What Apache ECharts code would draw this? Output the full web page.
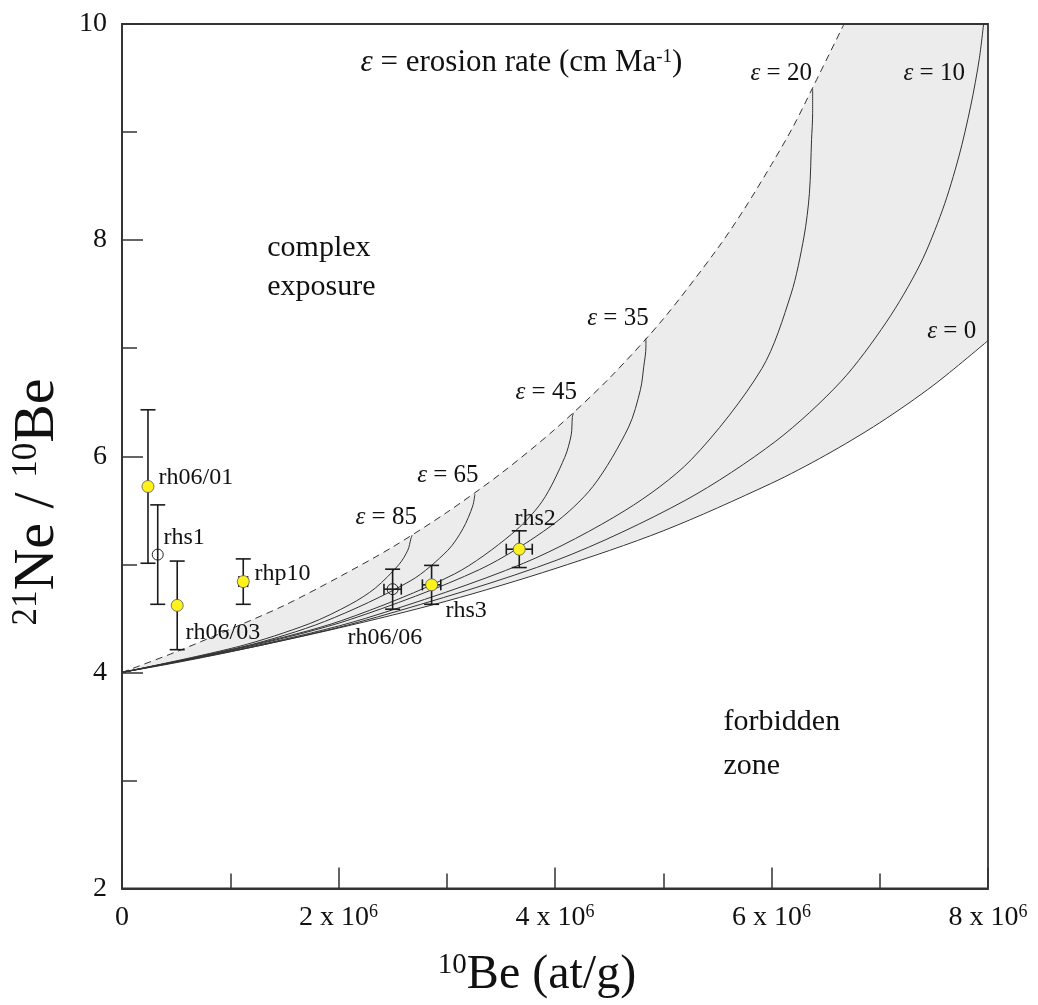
<!DOCTYPE html>
<html>
<head>
<meta charset="utf-8">
<script src="https://cdn.jsdelivr.net/npm/echarts@6/dist/echarts.min.js"></script>
<style>
  html, body { margin: 0; padding: 0; background: #fff; }
  #chart { width: 1038px; height: 1005px; }
</style>
</head>
<body>
<div id="chart"></div>
<script>
// x = 10Be (in 10^6 at/g), y = 21Ne/10Be
var steadyState = [[0, 4], [0.5, 4.19], [1, 4.4], [1.5, 4.62], [2, 4.88], [2.5, 5.16], [3, 5.48], [3.5, 5.84],
  [4, 6.25], [4.5, 6.72], [5, 7.27], [5.5, 7.92], [5.75, 8.29], [6, 8.7], [6.2, 9.05], [6.38, 9.41], [6.67, 10]];
var eps0 = [[0, 4], [0.5, 4.09], [1, 4.19], [2, 4.41], [3, 4.66], [4, 4.96], [5, 5.31], [6, 5.75], [6.5, 6.01],
  [7, 6.31], [7.5, 6.66], [8, 7.07]];
var eps10 = [[0, 4], [1.28, 4.25], [2.35, 4.51], [4.02, 5.04], [5.2, 5.59], [6.04, 6.14], [6.64, 6.69], [7.06, 7.24],
  [7.37, 7.77], [7.58, 8.28], [7.73, 8.77], [7.84, 9.24], [7.92, 9.68], [7.97, 10.1]];
var eps20 = [[0, 4], [1.25, 4.25], [2.25, 4.5], [3.71, 5.01], [4.65, 5.5], [5.26, 5.97], [5.91, 6.81], [6.18, 7.5],
  [6.3, 8.03], [6.35, 8.43], [6.37, 8.93], [6.38, 9.17], [6.38, 9.4]];
var eps35 = [[0, 4], [1.21, 4.25], [2.11, 4.49], [3.3, 4.95], [3.97, 5.36], [4.35, 5.72], [4.68, 6.27], [4.79, 6.62],
  [4.82, 6.83], [4.84, 7.01], [4.84, 7.09]];
var eps45 = [[0, 4], [1.18, 4.25], [2.03, 4.48], [3.07, 4.91], [3.6, 5.28], [3.88, 5.58], [4.09, 5.99], [4.15, 6.2],
  [4.16, 6.36], [4.17, 6.4]];
var eps65 = [[0, 4], [1.13, 4.24], [1.87, 4.47], [2.67, 4.85], [3.01, 5.13], [3.15, 5.33], [3.24, 5.54], [3.26, 5.65]];
var eps85 = [[0, 4], [1.08, 4.24], [1.73, 4.45], [2.11, 4.63], [2.34, 4.78], [2.56, 5.0], [2.64, 5.13], [2.67, 5.24],
  [2.68, 5.27]];

// samples
var sampleNames = ['rh06/01', 'rhs1', 'rh06/03', 'rhp10', 'rh06/06', 'rhs3', 'rhs2'];
var sampleBe = [0.24, 0.33, 0.51, 1.12, 2.5, 2.86, 3.67];
var sampleRatio = [5.72, 5.09, 4.62, 4.84, 4.77, 4.81, 5.14];
var ratioErr = [0.71, 0.46, 0.41, 0.21, 0.185, 0.18, 0.17];
var beErr = [0, 0, 0, 0.04, 0.08, 0.085, 0.12];
var openSamples = ['rhs1', 'rh06/06'];

var xTicks = [0, 2, 4, 6, 8];
var yTicks = [2, 4, 6, 8, 10];

// text placed in data coords (left edge, middle)
var sampleNotes = [
  ['rh06/01', 0.333, 5.806], ['rhs1', 0.379, 5.25], ['rh06/03', 0.582, 4.37], ['rhp10', 1.219, 4.917],
  ['rh06/06', 2.079, 4.324], ['rhs3', 2.984, 4.574], ['rhs2', 3.621, 5.426]
];
var epsNotes = [
  ['85', 2.152, 5.435], ['65', 2.722, 5.824], ['45', 3.63, 6.595], ['35', 4.293, 7.275],
  ['20', 5.801, 9.544], ['10', 7.215, 9.544], ['0', 7.434, 7.151]
];
var zoneNotes = [
  ['complex', 1.337, 7.926], ['exposure', 1.337, 7.568], ['forbidden', 5.552, 3.537], ['zone', 5.552, 3.13]
];

var FONT = "'Liberation Serif', 'Times New Roman', serif";
var INK = '#111';
var LINE = '#333';

var chart = echarts.init(document.getElementById('chart'));

function curve(data, dashed) {
  return {
    type: 'line',
    data: data,
    smooth: 0.3,
    showSymbol: false,
    silent: true,
    z: 3,
    lineStyle: { color: LINE, width: 1, type: dashed ? [7, 5] : 'solid' }
  };
}

function seg(x1, y1, x2, y2) {
  return { type: 'line', shape: { x1: x1, y1: y1, x2: x2, y2: y2 }, style: { stroke: '#1a1a1a', lineWidth: 1.6 } };
}

function noteSeries(list, fontSize, fmt) {
  return {
    type: 'scatter',
    silent: true,
    symbolSize: 1,
    z: 6,
    itemStyle: { color: 'transparent', opacity: 1 },
    data: list.map(function (n) { return { name: n[0], value: [n[1], n[2]] }; }),
    label: {
      show: true,
      position: 'right',
      distance: 0,
      fontFamily: FONT,
      fontSize: fontSize,
      color: INK,
      formatter: fmt || function (p) { return p.name; },
      rich: {
        e: { fontFamily: FONT, fontSize: fontSize, fontStyle: 'italic', color: INK },
        s: { fontFamily: FONT, fontSize: Math.round(fontSize * 0.6), verticalAlign: 'top', color: INK }
      }
    }
  };
}

var filled = [], hollow = [];
sampleNames.forEach(function (n, i) {
  (openSamples.indexOf(n) >= 0 ? hollow : filled).push([sampleBe[i], sampleRatio[i]]);
});

var series = [
  {
    // grey band between steady erosion and constant exposure
    type: 'custom',
    silent: true,
    z: -1,
    data: [0],
    renderItem: function (params, api) {
      var pts = [];
      steadyState.forEach(function (p) { pts.push(api.coord(p)); });
      pts.push(api.coord([8, 10]));
      for (var i = eps0.length - 1; i >= 0; i--) pts.push(api.coord(eps0[i]));
      return { type: 'polygon', shape: { points: pts }, style: { fill: '#ececec' } };
    }
  },
  curve(steadyState, true),
  curve(eps0), curve(eps10), curve(eps20), curve(eps35), curve(eps45), curve(eps65), curve(eps85),
  {
    type: 'custom',
    silent: true,
    z: 4,
    data: sampleNames.map(function (n, i) { return [sampleBe[i], sampleRatio[i]]; }),
    encode: { x: 0, y: 1 },
    renderItem: function (params, api) {
      var i = params.dataIndex;
      var x = sampleBe[i], y = sampleRatio[i];
      var top = api.coord([x, y + ratioErr[i]]), bot = api.coord([x, y - ratioErr[i]]);
      var c = 7.5;
      var kids = [
        seg(top[0], top[1], bot[0], bot[1]),
        seg(top[0] - c, top[1], top[0] + c, top[1]),
        seg(bot[0] - c, bot[1], bot[0] + c, bot[1])
      ];
      if (beErr[i] > 0) {
        var l = api.coord([x - beErr[i], y]), r = api.coord([x + beErr[i], y]);
        kids.push(seg(l[0], l[1], r[0], r[1]));
        kids.push(seg(l[0], l[1] - 5.5, l[0], l[1] + 5.5));
        kids.push(seg(r[0], r[1] - 5.5, r[0], r[1] + 5.5));
      }
      return { type: 'group', children: kids };
    }
  },
  {
    type: 'scatter',
    data: filled,
    symbolSize: 12,
    z: 5,
    itemStyle: { color: '#fff21c', opacity: 1, borderColor: '#555', borderWidth: 0.8 }
  },
  {
    type: 'scatter',
    data: hollow,
    symbolSize: 11,
    z: 5,
    itemStyle: { color: 'transparent', opacity: 1, borderColor: '#222', borderWidth: 1 }
  },
  noteSeries(sampleNotes, 24),
  noteSeries(epsNotes, 25, function (p) { return '{e|ε} = ' + p.name; }),
  noteSeries(zoneNotes, 30),
  noteSeries([['head', 2.199, 9.639]], 31, function () { return '{e|ε} = erosion rate (cm Ma{s|-1})'; })
];

var axisLine = { show: true, onZero: false, lineStyle: { color: '#333', width: 1.8 } };

chart.setOption({
  animation: false,
  backgroundColor: '#fff',
  grid: { left: 122, right: 50, top: 24, bottom: 116.5, show: true, borderColor: '#333', borderWidth: 1.8 },
  xAxis: {
    type: 'value',
    min: xTicks[0],
    max: xTicks[xTicks.length - 1],
    interval: 2,
    axisLine: axisLine,
    axisTick: { inside: true, length: 21, lineStyle: { color: '#333', width: 1.5 } },
    minorTick: { show: true, splitNumber: 2, length: 15, lineStyle: { color: '#333', width: 1.5 } },
    splitLine: { show: false },
    axisLabel: {
      margin: 15,
      color: INK,
      fontFamily: FONT,
      fontSize: 28,
      formatter: function (v) { return v === 0 ? '{n|0}' : '{n|' + v + ' x 10}{s|6}'; },
      rich: {
        n: { fontFamily: FONT, fontSize: 28, color: INK },
        s: { fontFamily: FONT, fontSize: 18, verticalAlign: 'top', color: INK }
      }
    }
  },
  yAxis: {
    type: 'value',
    min: yTicks[0],
    max: yTicks[yTicks.length - 1],
    interval: 2,
    axisLine: axisLine,
    axisTick: { inside: true, length: 21, lineStyle: { color: '#333', width: 1.5 } },
    minorTick: { show: true, splitNumber: 2, length: 15, lineStyle: { color: '#333', width: 1.5 } },
    splitLine: { show: false },
    axisLabel: { margin: 15, color: INK, fontFamily: FONT, fontSize: 28 }
  },
  graphic: [
    {
      type: 'text',
      x: 537,
      y: 975,
      style: {
        text: '{s|10}{m|Be (at/g)}',
        align: 'center',
        verticalAlign: 'middle',
        rich: {
          s: { fontFamily: FONT, fontSize: 29, verticalAlign: 'top', fill: INK },
          m: { fontFamily: FONT, fontSize: 48, fill: INK }
        }
      }
    },
    {
      type: 'text',
      x: 38,
      y: 502,
      rotation: Math.PI / 2,
      style: {
        text: '{s|21}{m|Ne / }{s|10}{m|Be}',
        align: 'center',
        verticalAlign: 'middle',
        rich: {
          s: { fontFamily: FONT, fontSize: 35, verticalAlign: 'top', fill: INK },
          m: { fontFamily: FONT, fontSize: 58, fill: INK }
        }
      }
    }
  ],
  series: series
});
</script>
</body>
</html>
